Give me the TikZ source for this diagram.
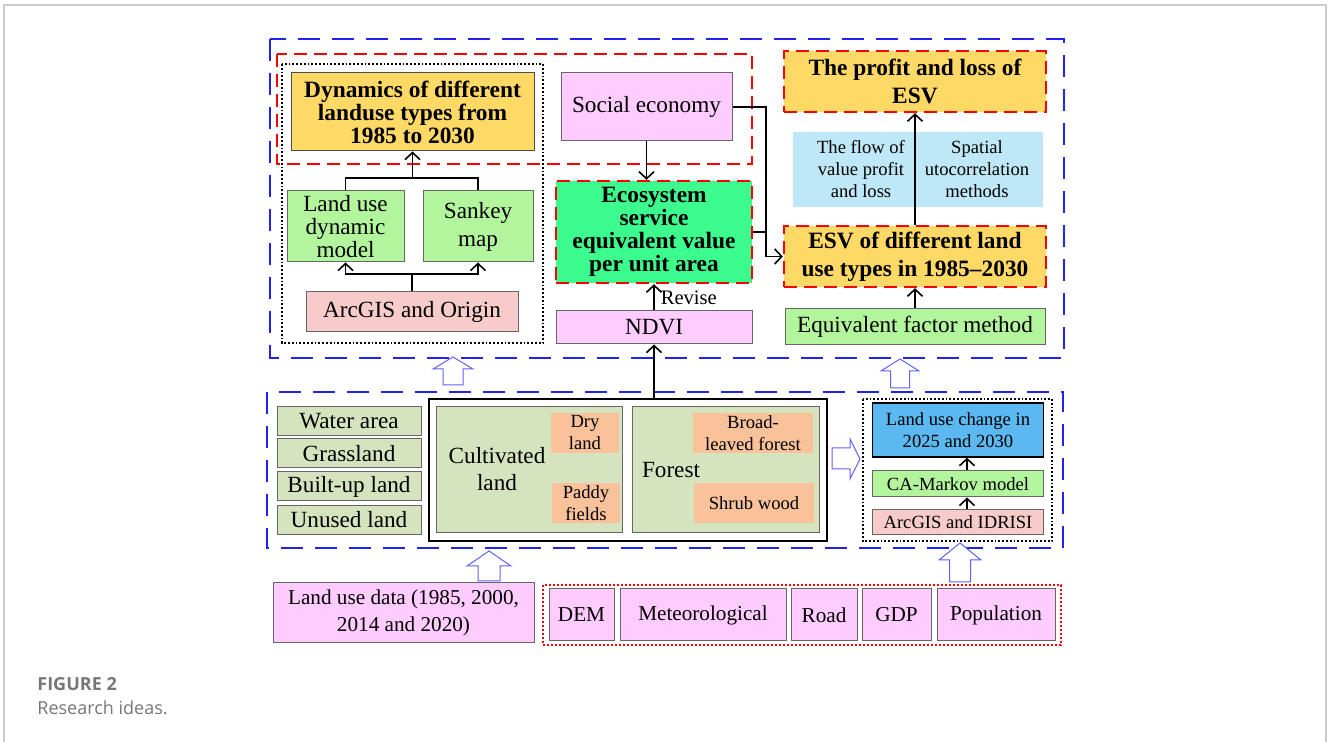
\documentclass[tikz,border=0pt]{standalone}
\usepackage{fontspec}
\setmainfont{Liberation Serif}
\newfontfamily\capfont{Open Sans}
\usepackage{xcolor}
\usepackage{tikz}
\usetikzlibrary{arrows.meta}

\definecolor{gold}{HTML}{FFD966}
\definecolor{lgreen}{HTML}{B2F59C}
\definecolor{sgreen}{HTML}{3CFC8E}
\definecolor{lmag}{HTML}{FFCCFF}
\definecolor{lpink}{HTML}{F8CBCB}
\definecolor{lcyan}{HTML}{BEE8F8}
\definecolor{sky}{HTML}{5BB8F0}
\definecolor{olive}{HTML}{D5E3BE}
\definecolor{peach}{HTML}{F9C29A}
\definecolor{dblue}{HTML}{2222EE}
\definecolor{oblue}{HTML}{6262F6}
\definecolor{framegray}{HTML}{CCCCCC}
\definecolor{capgray}{HTML}{777777}

\tikzset{
	box/.style={draw=black!60, line width=0.5pt, inner sep=0pt, align=center, font=\fontsize{11.6}{11.6}\selectfont},
	wh/.style 2 args={minimum width=#1*0.5pt, minimum height=#2*0.5pt},
	boldtxt/.style={font=\bfseries\fontsize{11.7}{11.5}\selectfont},
	smalltxt/.style={font=\fontsize{9.3}{11}\selectfont},
	datatxt/.style={font=\fontsize{10.6}{13.5}\selectfont},
	reddash/.style={draw=red, line width=1.2pt, dash pattern=on 6.5pt off 3.5pt},
	bluedash/.style={draw=dblue, line width=1pt, dash pattern=on 11pt off 6pt},
	blackdot/.style={draw=black, line width=0.9pt, dash pattern=on 0.9pt off 1pt},
	link/.style={draw=black, line width=0.8pt},
	tip/.style={-{Straight Barb[length=3.5pt,width=7.5pt]}},
	hollow/.style={draw=oblue, line width=0.5pt, fill=white},
}

\begin{document}
\begin{tikzpicture}[x=0.5pt, y=-0.5pt]
	
	% Page and card frame
	\useasboundingbox (0,0) rectangle (1328,742);
	\fill[white] (0,0) rectangle (1328,742);
	\draw[framegray, line width=0.75pt] (4,742) -- (4,5) -- (1326,5) -- (1326,742);
	
	% Group frames
	\draw[bluedash] (270,39) rectangle (1064,358);   % upper group
	\draw[bluedash] (267,392) rectangle (1063,548);  % land cover group
	\draw[reddash] (277,54) rectangle (752,164);
	\draw[blackdot] (282,64) rectangle (543,343);
	\draw[blackdot] (863,399) rectangle (1052,541);
	\draw[draw=red, line width=1pt, dash pattern=on 1pt off 1pt] (543,585) rectangle (1061,645);
	
	% Left column: land use dynamics
	\node[box, boldtxt, fill=gold, draw=black!70, wh={243}{78}] (dyn) at (412.5,112) {Dynamics of different\\landuse types from\\1985 to 2030};
	\node[box, fill=lgreen, wh={117}{71}] (ldm) at (345.5,226.5) {Land use\\dynamic\\model};
	\node[box, fill=lgreen, wh={110}{71}, font=\fontsize{11.6}{14}\selectfont] (sankey) at (478,226.5) {Sankey\\map};
	\node[box, fill=lpink, wh={212}{40}] (arcorigin) at (412,312) {ArcGIS and Origin};
	
	% Middle column: equivalent value
	\node[box, fill=lmag, wh={171}{68}] (social) at (646.5,107) {Social economy};
	\node[box, boldtxt, fill=sgreen, reddash, wh={196}{102}] (esvunit) at (654,232) {Ecosystem\\service\\equivalent value\\per unit area};
	\node[box, fill=lmag, wh={196}{33}] (ndvi) at (654,327.5) {NDVI};
	
	% Right column: ESV
	\node[box, boldtxt, fill=gold, reddash, wh={262}{61}, font=\bfseries\fontsize{11.7}{14}\selectfont] (profit) at (915,81.5) {The profit and loss of\\ESV};
	\node[fill=lcyan, inner sep=0pt, wh={250}{75}] (methods) at (918,169.5) {};
	\node[smalltxt, align=center] (flowtxt) at (861,169.5) {The flow of\\value profit\\and loss};
	\node[smalltxt, align=center] (spattxt) at (977,169.5) {Spatial\\utocorrelation\\methods};
	\node[box, boldtxt, fill=gold, reddash, wh={262}{61}, font=\bfseries\fontsize{11.7}{14}\selectfont] (esv) at (915,256.5) {ESV of different land\\use types in 1985--2030};
	\node[box, fill=lgreen, wh={260}{36}] (eqf) at (915,327) {Equivalent factor method};
	
	% Land cover classes
	\node[box, fill=olive, wh={144}{29}] (water) at (349,421.5) {Water area};
	\node[box, fill=olive, wh={144}{29}] (grass) at (349,453.5) {Grassland};
	\node[box, fill=olive, wh={144}{29}] (built) at (349,486.5) {Built-up land};
	\node[box, fill=olive, wh={144}{29}] (unused) at (349,520) {Unused land};
	\node[draw=black, line width=1.2pt, inner sep=0pt, wh={398}{142}] (cover) at (628,470) {};
	\node[box, fill=olive, wh={186}{126}] (cult) at (529,470) {};
	\node[align=center, font=\fontsize{11.6}{13.5}\selectfont] (cultname) at (497,469) {Cultivated\\land};
	\node[box, smalltxt, draw=none, fill=peach, wh={68}{40}] (dry) at (585,433) {Dry\\land};
	\node[box, smalltxt, draw=none, fill=peach, wh={68}{40}] (paddy) at (586,503) {Paddy\\fields};
	\node[box, fill=olive, wh={187}{126}] (forest) at (725.5,470) {};
	\node[font=\fontsize{11.6}{11.6}\selectfont] (forestname) at (671,470) {Forest};
	\node[box, smalltxt, draw=none, fill=peach, wh={120}{40}] (broad) at (753,433) {Broad-\\leaved forest};
	\node[box, smalltxt, draw=none, fill=peach, wh={120}{40}] (shrub) at (754,503) {Shrub wood};
	
	% Simulation 2025 and 2030
	\node[box, smalltxt, fill=sky, draw=black, line width=0.7pt, wh={171}{54}] (luc) at (958,430) {Land use change in\\2025 and 2030};
	\node[box, smalltxt, fill=lgreen, wh={171}{26}] (camarkov) at (958,484) {CA-Markov model};
	\node[box, smalltxt, fill=lpink, wh={171}{25}] (idrisi) at (958,522.5) {ArcGIS and IDRISI};
	
	% Input data
	\node[box, datatxt, fill=lmag, wh={261}{60}] (lud) at (403.5,613) {Land use data (1985, 2000,\\2014 and 2020)};
	\node[box, datatxt, fill=lmag, wh={65}{52}] (dem) at (581.5,615) {DEM};
	\node[box, datatxt, fill=lmag, wh={166}{52}] (meteo) at (703,615) {Meteorological};
	\node[box, datatxt, fill=lmag, wh={66}{52}] (road) at (824,615) {Road};
	\node[box, datatxt, fill=lmag, wh={69}{52}] (gdp) at (896.5,615) {GDP};
	\node[box, datatxt, fill=lmag, wh={118}{52}] (popu) at (996,615) {Population};
	
	% Connectors
	\coordinate (forkA) at (412.5,178);
	\draw[link] (ldm.north) |- (forkA) -| (sankey.north);
	\draw[link, tip] (forkA) -- (dyn.south);
	\coordinate (forkB) at (412,274);
	\draw[link] (arcorigin.north) -- (forkB);
	\draw[link, tip] (forkB) -| (ldm.south);
	\draw[link, tip] (forkB) -| (sankey.south);
	
	\draw[link, tip] (social.south) -- (social.south |- esvunit.north);
	\coordinate (merge) at (766,256.5);
	\draw[link, tip] (social.east) -| (merge) -- (esv.west);
	\draw[link] (esvunit.east) -- (esvunit.east -| merge);
	\draw[link, tip] (ndvi.north) -- (esvunit.south)
	node[midway, right, xshift=3pt, inner sep=0pt, font=\fontsize{10.3}{12}\selectfont] {Revise};
	\draw[link, tip] (ndvi.south |- cover.north) -- (ndvi.south);
	
	\draw[link, tip] (esv.north) -- (profit.south);
	\draw[link, tip] (eqf.north) -- (esv.south);
	\draw[link, tip] ([xshift=4.5pt]camarkov.north) -- ([xshift=4.5pt]luc.south);
	\draw[link, tip] ([xshift=4.5pt]idrisi.north) -- ([xshift=4.5pt]camarkov.south);
	
	% Hollow block arrows between groups
	\foreach \cx/\ty/\by/\ey/\hw in {453/357/369/385/20, 900/359/371/388/19, 489/551/566/581/22, 960/543/560/582/21}
	\draw[hollow] (\cx-\hw/2,\ey) -- (\cx-\hw/2,\by) -- (\cx-\hw,\by) -- (\cx,\ty) -- (\cx+\hw,\by) -- (\cx+\hw/2,\by) -- (\cx+\hw/2,\ey) -- cycle;
	\draw[hollow] (832,448) -- (850,448) -- (850,439) -- (860,459) -- (850,479) -- (850,469) -- (832,469) -- cycle;
	
	% Caption
	\node[anchor=base west, inner sep=0pt, text=capgray, font=\capfont\bfseries\fontsize{9}{11}\selectfont] (figno) at (37,690) {FIGURE 2};
	\node[anchor=base west, inner sep=0pt, text=capgray, font=\capfont\fontsize{9}{11}\selectfont] (figcap) at (37,714) {Research ideas.};
	
\end{tikzpicture}
\end{document}
